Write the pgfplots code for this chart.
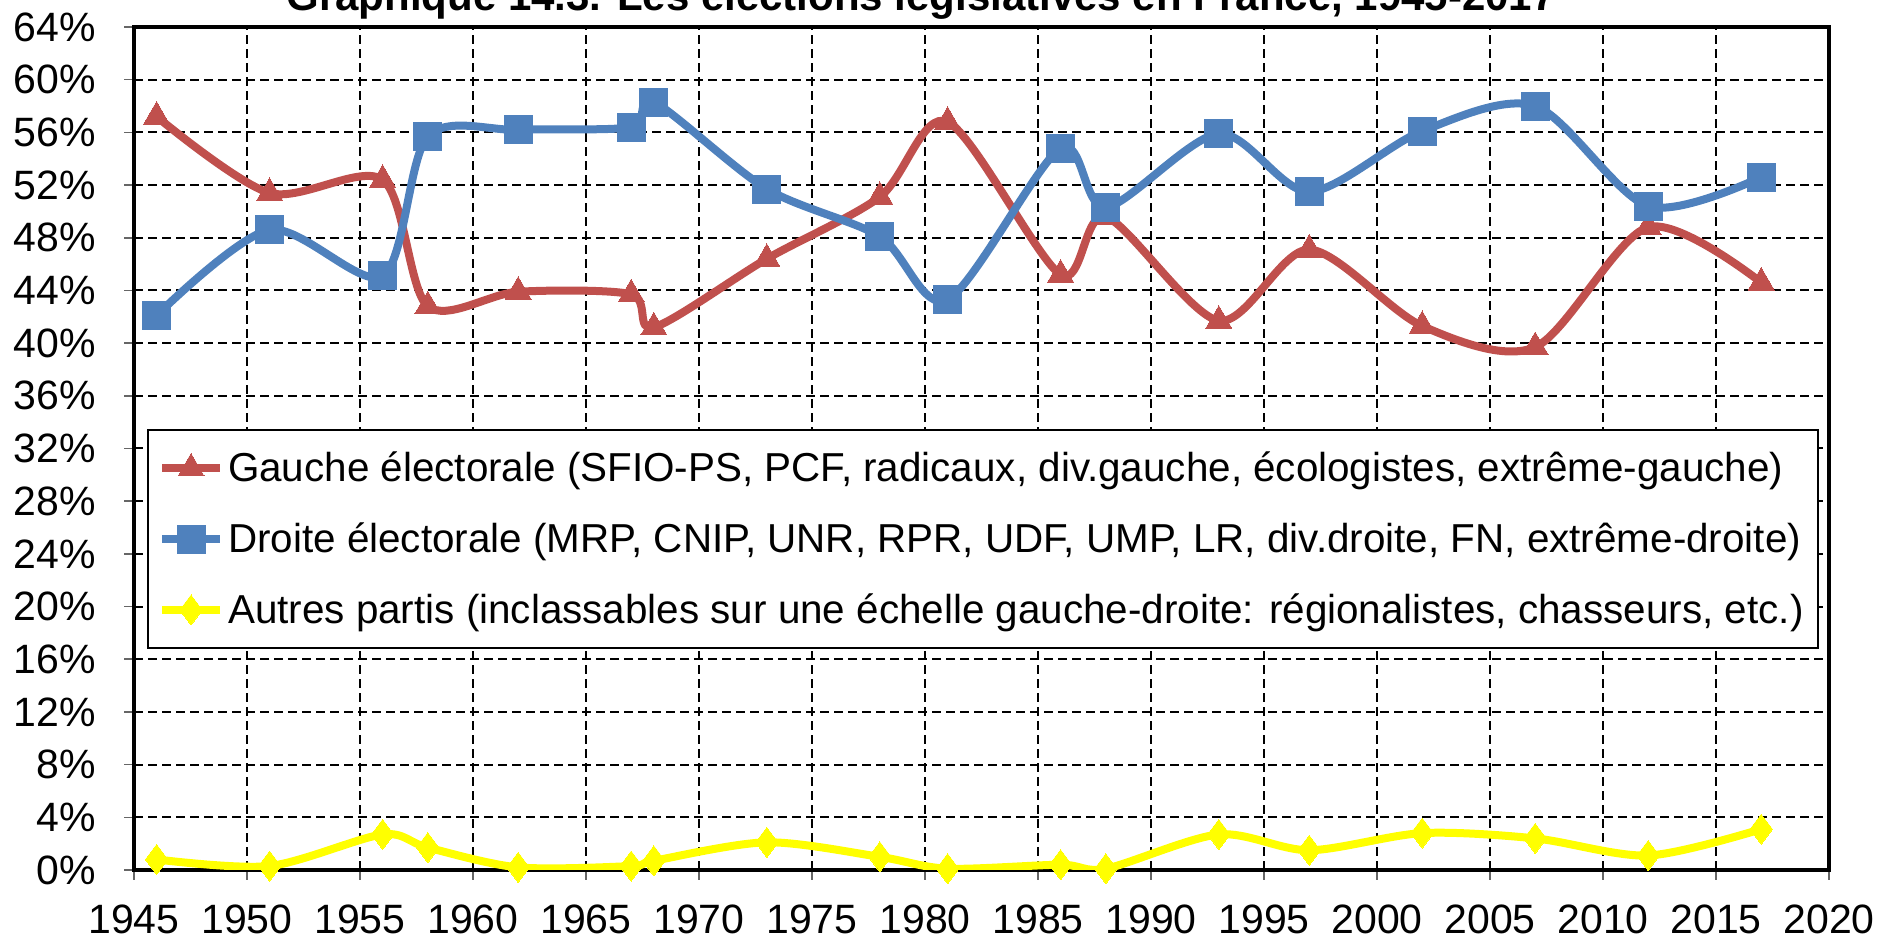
\documentclass[border=0pt]{standalone}
\usepackage{pgfplots}
\pgfplotsset{compat=1.18}
\usepackage{fontspec}
\setmainfont{Liberation Sans}
\definecolor{cRed}{HTML}{C0504D}
\definecolor{cBlue}{HTML}{4F81BD}
\definecolor{cYel}{HTML}{FFFF00}
\begin{document}
\begin{tikzpicture}
\begin{axis}[
  width=847.5pt, height=421.5pt, scale only axis,
  xmin=1945, xmax=2020, ymin=0, ymax=64,
  xtick={1945,1950,...,2020}, ytick={0,4,...,64},
  /pgf/number format/assume math mode=true,
  xticklabel style={/pgf/number format/1000 sep={}, font=\fontsize{20.5}{24}\selectfont, inner sep=1pt, yshift=-11pt},
  yticklabel={\pgfmathprintnumber{\tick}\%},
  yticklabel style={font=\fontsize{20.5}{24}\selectfont, xshift=-10.5pt},
  grid=major,
  major grid style={black, line width=1pt, dash pattern=on 4.5pt off 2.5pt},
  axis line style={line width=2.2pt},
  tick style={black!60, line width=0.8pt},
  tick align=outside, major tick length=5pt, tick pos=left,
  legend cell align=left,
  legend style={at={(rel axis cs:0.0077,0.523)}, anchor=north west,
    draw=black, line width=1pt, font=\fontsize{20.2}{24}\selectfont,
    row sep=15pt, inner xsep=5pt, inner ysep=9pt},
  legend image code/.code={\draw[mark repeat=2,mark phase=2,#1] plot coordinates {(0pt,0pt) (14.5pt,0pt) (29pt,0pt)};},
]
\addplot[cRed, line width=4pt, smooth, tension=0.5, mark=triangle*, mark size=7.5pt,
  mark options={solid, fill=cRed, draw=cRed, line width=0pt}] coordinates {
(1946,57.2)(1951,51.4)(1956,52.4)(1958,42.8)(1962,43.9)(1967,43.7)(1968,41.2)(1973,46.4)(1978,51.1)
(1981,56.8)(1986,45.2)(1988,49.6)(1993,41.7)(1997,47.1)(2002,41.3)(2007,39.7)(2012,48.8)(2017,44.6)};
\addlegendentry{Gauche électorale (SFIO-PS, PCF, radicaux, div.gauche, écologistes, extrême-gauche)}
\addplot[cBlue, line width=4pt, smooth, tension=0.5, mark=square*, mark size=7pt,
  mark options={solid, fill=cBlue, draw=cBlue, line width=0pt}] coordinates {
(1946,42.1)(1951,48.6)(1956,45.1)(1958,55.7)(1962,56.2)(1967,56.4)(1968,58.3)(1973,51.7)(1978,48.1)
(1981,43.3)(1986,54.8)(1988,50.3)(1993,55.9)(1997,51.5)(2002,56.1)(2007,58.0)(2012,50.4)(2017,52.6)};
\addlegendentry{Droite électorale (MRP, CNIP, UNR, RPR, UDF, UMP, LR, div.droite, FN, extrême-droite)}
\addplot[cYel, line width=4pt, smooth, tension=0.5, mark=diamond*, mark size=7.5pt,
  mark options={solid, fill=cYel, draw=cYel, line width=0pt}] coordinates {
(1946,0.8)(1951,0.3)(1956,2.7)(1958,1.7)(1962,0.2)(1967,0.3)(1968,0.7)(1973,2.1)(1978,1.0)
(1981,0.1)(1986,0.4)(1988,0.1)(1993,2.7)(1997,1.5)(2002,2.8)(2007,2.4)(2012,1.1)(2017,3.1)};
\addlegendentry{Autres partis (inclassables sur une échelle gauche-droite: régionalistes, chasseurs, etc.)}
\end{axis}
\node[anchor=base, font=\bfseries\fontsize{21}{24}\selectfont] at ([xshift=393.5pt,yshift=8pt]current axis.north west) {Graphique 14.3. Les élections législatives en France, 1945-2017};
\pgfresetboundingbox
\path[use as bounding box] ([xshift=-67pt,yshift=-34pt]current axis.south west) rectangle ([xshift=32.5pt,yshift=13.5pt]current axis.north east);
\end{tikzpicture}
\end{document}
